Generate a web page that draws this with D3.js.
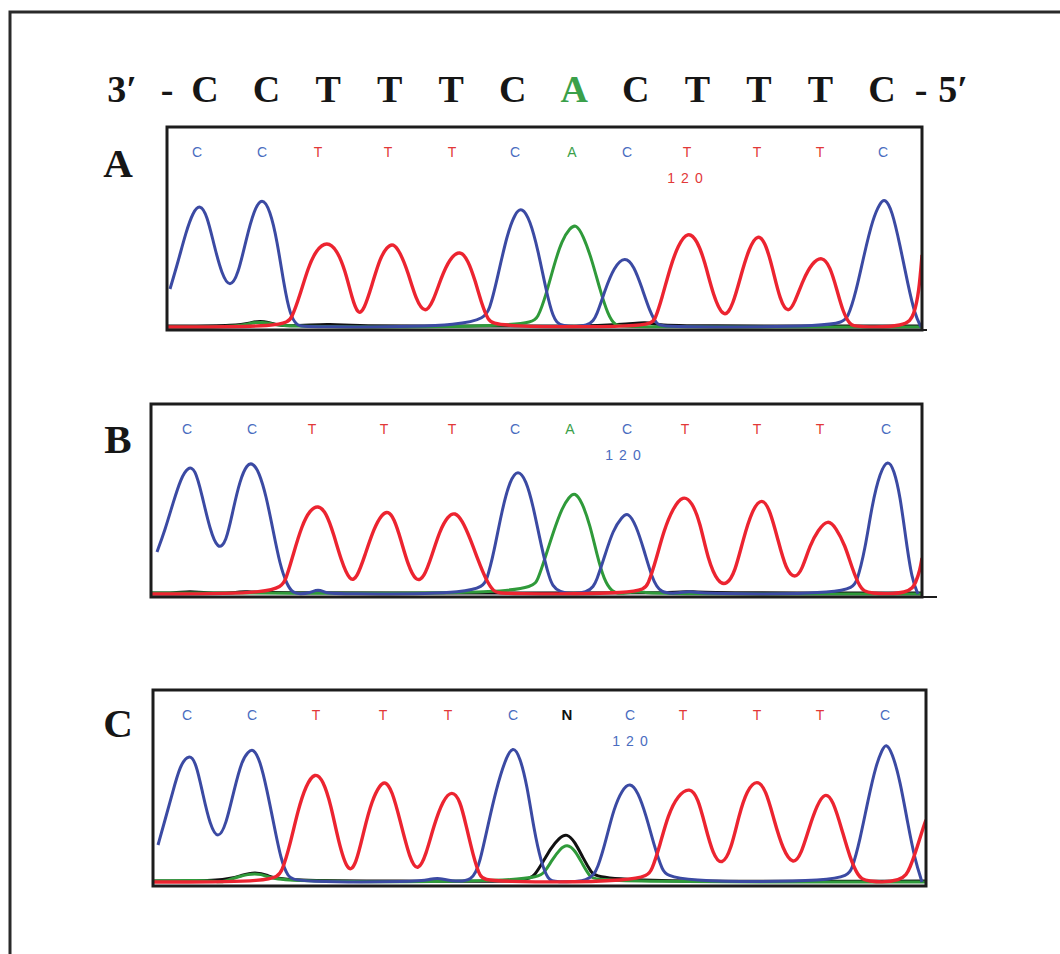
<!DOCTYPE html>
<html>
<head>
<meta charset="utf-8">
<script src="https://d3js.org/d3.v7.min.js"></script>
<style>
    body { margin: 0; background: #ffffff; }
    svg { display: block; }
    text.seq {
        font-family: "Liberation Serif", "DejaVu Serif", serif;
        font-weight: bold;
        font-size: 38px;
        fill: #161616;
    }
    text.panel-label {
        font-family: "Liberation Serif", "DejaVu Serif", serif;
        font-weight: bold;
        font-size: 41px;
        fill: #161616;
    }
    text.call {
        font-family: "Liberation Sans", Arial, sans-serif;
        font-size: 14px;
    }
    text.pos {
        font-family: "Liberation Sans", Arial, sans-serif;
        font-size: 14px;
        letter-spacing: 6px;
    }
</style>
</head>
<body>
<div id="chart"></div>
<script>

    // sequence shown above the traces
    const seqBases = ["C", "C", "T", "T", "T", "C", "A", "C", "T", "T", "T", "C"];
    const callsAB = ["C", "C", "T", "T", "T", "C", "A", "C", "T", "T", "T", "C"];
    const callsC  = ["C", "C", "T", "T", "T", "C", "N", "C", "T", "T", "T", "C"];

    // base call positions (scan units)
    const callScanA = [47, 112, 168, 238, 302, 365, 422, 477, 537, 607, 670, 733];
    const callScanB = [37, 102, 162, 234, 302, 365, 420, 477, 535, 607, 670, 736];
    const callScanC = [37, 102, 166, 233, 298, 363, 417, 480, 533, 607, 670, 735];

    // "120" position marker (scan units)
    const markScan = { A: 535, B: 473, C: 480 };

    // scan window and max intensity of each panel
    const scanDomainA = [17, 772], scanDomainB = [1, 772], scanDomainC = [3, 776];
    const intMaxA = 200, intMaxB = 190, intMaxC = 192;

    // traces: [scan, intensity]
    const blueA = [[20,38],[28,65],[36,95],[43,115],[50,123],[57,112],[64,82],[72,52],[80,39],[88,52],[96,87],[104,117],[112,130],[120,117],[127,87],[134,42],[140,12],[147,1],[155,0],[330,0],[340,17],[348,52],[357,92],[365,114],[372,120],[380,107],[388,77],[396,37],[403,9],[410,0],[440,0],[447,12],[455,37],[464,60],[475,71],[484,61],[492,39],[500,15],[507,2],[514,0],[690,0],[698,9],[706,35],[714,72],[723,109],[730,124],[735,129],[742,117],[750,82],[758,42],[765,12],[771,0]];
    const redA = [[17,0],[135,0],[142,9],[150,32],[158,59],[166,77],[177,86],[187,77],[195,57],[202,29],[208,12],[214,17],[222,42],[230,69],[237,80],[243,84],[250,75],[258,55],[266,27],[275,13],[283,25],[291,49],[300,69],[310,77],[318,67],[325,47],[332,22],[338,7],[345,0],[500,0],[505,7],[512,29],[520,59],[528,82],[538,96],[547,87],[555,65],[563,32],[574,7],[583,22],[591,52],[599,79],[608,94],[616,83],[623,57],[630,27],[638,13],[645,25],[653,47],[662,64],[672,71],[680,61],[687,37],[693,15],[700,2],[706,0],[757,0],[764,12],[769,35],[772,72]];
    const greenA = [[17,0],[88,0],[100,4],[112,5],[124,3],[134,0],[380,0],[388,9],[396,32],[404,62],[412,87],[420,99],[426,103],[433,92],[442,67],[450,37],[458,12],[465,1],[475,0],[772,0]];
    const blackA = [[17,1],[90,1],[102,5],[114,6],[126,2],[140,1],[160,2],[180,3],[200,1],[330,1],[380,1],[440,1],[480,3],[495,5],[510,2],[530,1],[772,1]];

    const blueB = [[7,42],[15,64],[23,91],[31,116],[38,127],[45,126],[52,99],[60,64],[68,44],[76,51],[83,84],[90,114],[97,130],[103,131],[109,122],[116,99],[123,64],[130,29],[137,9],[143,1],[150,0],[160,1],[168,5],[176,1],[185,0],[330,0],[337,14],[344,42],[352,84],[360,114],[368,125],[376,114],[383,89],[391,49],[399,16],[406,0],[440,0],[447,14],[455,39],[463,64],[472,77],[478,82],[486,69],[494,44],[502,16],[510,0],[530,1],[540,3],[550,0],[700,0],[707,12],[715,44],[722,89],[730,122],[738,135],[744,124],[750,99],[756,54],[762,14],[768,0]];
    const redB = [[1,0],[128,0],[136,14],[143,39],[152,69],[160,84],[168,89],[176,82],[184,59],[191,34],[200,12],[207,16],[215,39],[224,66],[232,80],[238,83],[244,76],[251,54],[258,29],[266,12],[274,16],[282,39],[290,64],[298,78],[305,82],[312,74],[320,56],[328,34],[336,14],[344,2],[350,0],[492,0],[498,9],[506,34],[514,64],[523,86],[533,99],[542,92],[550,72],[558,34],[568,11],[577,9],[585,22],[593,54],[602,84],[612,97],[620,84],[628,54],[636,24],[645,15],[652,24],[660,49],[668,64],[678,75],[686,66],[695,49],[702,26],[710,6],[717,0],[760,0],[766,12],[770,24],[772,36]];
    const greenB = [[1,1],[120,1],[380,0],[388,14],[396,39],[404,64],[412,86],[419,97],[425,102],[432,92],[440,69],[447,39],[454,14],[462,2],[470,0],[482,2],[495,2],[505,0],[772,0]];
    const blackB = [[1,1],[25,1],[40,3],[55,1],[85,1],[95,3],[105,1],[400,1],[530,1],[540,3],[550,1],[772,1]];

    const blueC = [[8,37],[15,62],[22,87],[30,117],[39,128],[46,120],[53,87],[60,57],[68,42],[76,57],[84,92],[92,122],[98,130],[103,134],[110,122],[117,92],[124,57],[131,22],[138,5],[145,0],[270,0],[280,3],[290,4],[300,1],[323,0],[330,20],[338,57],[346,92],[355,122],[363,137],[370,125],[377,97],[384,52],[391,20],[398,2],[405,0],[440,0],[448,14],[456,42],[464,74],[472,92],[480,100],[488,90],[496,67],[504,37],[512,12],[520,0],[695,0],[702,12],[710,42],[718,82],[726,117],[732,132],[736,139],[742,130],[750,102],[758,57],[765,22],[772,0]];
    const redC = [[3,0],[125,0],[132,10],[140,37],[148,72],[156,97],[165,110],[173,102],[181,77],[188,42],[198,8],[206,17],[214,52],[222,82],[230,97],[235,101],[242,92],[250,62],[260,22],[268,10],[276,27],[284,57],[293,82],[302,92],[310,82],[316,57],[323,27],[330,4],[337,0],[495,0],[502,12],[510,37],[518,67],[528,87],[540,95],[548,84],[555,57],[563,27],[572,16],[581,32],[589,67],[597,92],[607,103],[616,92],[624,62],[633,32],[643,17],[651,27],[659,54],[667,77],[675,90],[683,82],[692,52],[700,24],[708,6],[715,0],[753,0],[760,14],[767,34],[774,57],[776,62]];
    const greenC = [[3,1],[50,2],[70,0],[73,0],[90,6],[105,9],[118,6],[127,0],[385,0],[395,10],[402,22],[410,33],[417,38],[425,32],[433,17],[440,5],[447,0],[776,0]];
    const blackC = [[3,1],[75,1],[92,7],[105,10],[118,7],[128,1],[280,1],[377,0],[385,7],[393,20],[401,34],[409,44],[417,49],[425,40],[433,24],[441,10],[449,0],[776,1]];

    const traceColor = { black: "#111111", green: "#2f9a3a", blue: "#3b4aa3", red: "#ec2430" };
    const callColor = { C: "#4a6cc0", T: "#e23838", A: "#3aa04a", N: "#111111" };

    // panel boxes (layout)
    const panels = [
        { id: "A", box: { left: 167, right: 922, top: 127, bottom: 330, base: 327, tail: 927 },
          scan: scanDomainA, intMax: intMaxA, calls: callsAB, callScan: callScanA, markColor: callColor.T,
          traces: { black: blackA, green: greenA, blue: blueA, red: redA } },
        { id: "B", box: { left: 151, right: 922, top: 404, bottom: 597, base: 594, tail: 937 },
          scan: scanDomainB, intMax: intMaxB, calls: callsAB, callScan: callScanB, markColor: callColor.C,
          traces: { black: blackB, green: greenB, blue: blueB, red: redB } },
        { id: "C", box: { left: 153, right: 926, top: 690, bottom: 886, base: 882, tail: 926 },
          scan: scanDomainC, intMax: intMaxC, calls: callsC, callScan: callScanC, markColor: callColor.C,
          traces: { black: blackC, green: greenC, blue: blueC, red: redC } }
    ];
    const labelY = { A: 177, B: 453, C: 737 };

    const svg = d3.select("#chart")
        .append("svg")
        .attr("width", 1060)
        .attr("height", 954);

    // outer frame (left and top edges visible)
    svg.append("path")
        .attr("d", "M10,954 L10,12 L1060,12")
        .attr("fill", "none")
        .attr("stroke", "#2a2a2a")
        .attr("stroke-width", 3);

    // sequence line on top
    const seqX = d3.scalePoint().domain(d3.range(seqBases.length)).range([205, 882]);
    const seq = svg.append("g");
    seq.selectAll("text.base")
        .data(seqBases)
        .join("text")
        .attr("class", "seq base")
        .attr("x", (d, i) => seqX(i))
        .attr("y", 102)
        .attr("text-anchor", "middle")
        .style("fill", d => d === "A" ? "#3aa04a" : null)
        .text(d => d);
    seq.append("text").attr("class", "seq").attr("x", 122).attr("y", 102).attr("text-anchor", "middle").text("3\u2032");
    seq.append("text").attr("class", "seq").attr("x", 167).attr("y", 102).attr("text-anchor", "middle").text("-");
    seq.append("text").attr("class", "seq").attr("x", 921).attr("y", 102).attr("text-anchor", "middle").text("-");
    seq.append("text").attr("class", "seq").attr("x", 953).attr("y", 102).attr("text-anchor", "middle").text("5\u2032");

    panels.forEach(function(p) {
        const b = p.box;
        const x = d3.scaleLinear().domain(p.scan).range([b.left, b.right]);
        const y = d3.scaleLinear().domain([0, p.intMax]).range([b.base, b.top]);

        const g = svg.append("g");

        // panel letter
        g.append("text")
            .attr("class", "panel-label")
            .attr("x", 118)
            .attr("y", labelY[p.id])
            .attr("text-anchor", "middle")
            .text(p.id);

        g.append("clipPath")
            .attr("id", "clip" + p.id)
            .append("rect")
            .attr("x", b.left)
            .attr("y", b.top)
            .attr("width", b.right - b.left)
            .attr("height", b.bottom - b.top);

        // traces
        const line = d3.line()
            .x(d => x(d[0]))
            .y(d => y(d[1]))
            .curve(d3.curveBasis);

        ["black", "green", "blue", "red"].forEach(function(k) {
            g.append("path")
                .datum(p.traces[k])
                .attr("clip-path", "url(#clip" + p.id + ")")
                .attr("fill", "none")
                .attr("stroke", traceColor[k])
                .attr("stroke-width", k === "red" ? 3.4 : 3)
                .attr("stroke-linejoin", "round")
                .attr("d", line);
        });

        // base calls
        g.selectAll("text.call")
            .data(p.calls)
            .join("text")
            .attr("class", "call")
            .attr("x", (d, i) => x(p.callScan[i]))
            .attr("y", b.top + 30)
            .attr("text-anchor", "middle")
            .style("fill", d => callColor[d])
            .style("font-weight", d => d === "N" ? "bold" : "normal")
            .style("font-size", d => d === "N" ? "15px" : null)
            .text(d => d);

        g.append("text")
            .attr("class", "pos")
            .attr("x", x(markScan[p.id]) + 3)
            .attr("y", b.top + 56)
            .attr("text-anchor", "middle")
            .style("fill", p.markColor)
            .text("120");

        // box
        g.append("rect")
            .attr("x", b.left)
            .attr("y", b.top)
            .attr("width", b.right - b.left)
            .attr("height", b.bottom - b.top)
            .attr("fill", "none")
            .attr("stroke", "#1c1c1c")
            .attr("stroke-width", 3);
        g.append("line")
            .attr("x1", b.right)
            .attr("x2", b.tail)
            .attr("y1", b.bottom)
            .attr("y2", b.bottom)
            .attr("stroke", "#1c1c1c")
            .attr("stroke-width", 2);
    });

</script>
</body>
</html>
